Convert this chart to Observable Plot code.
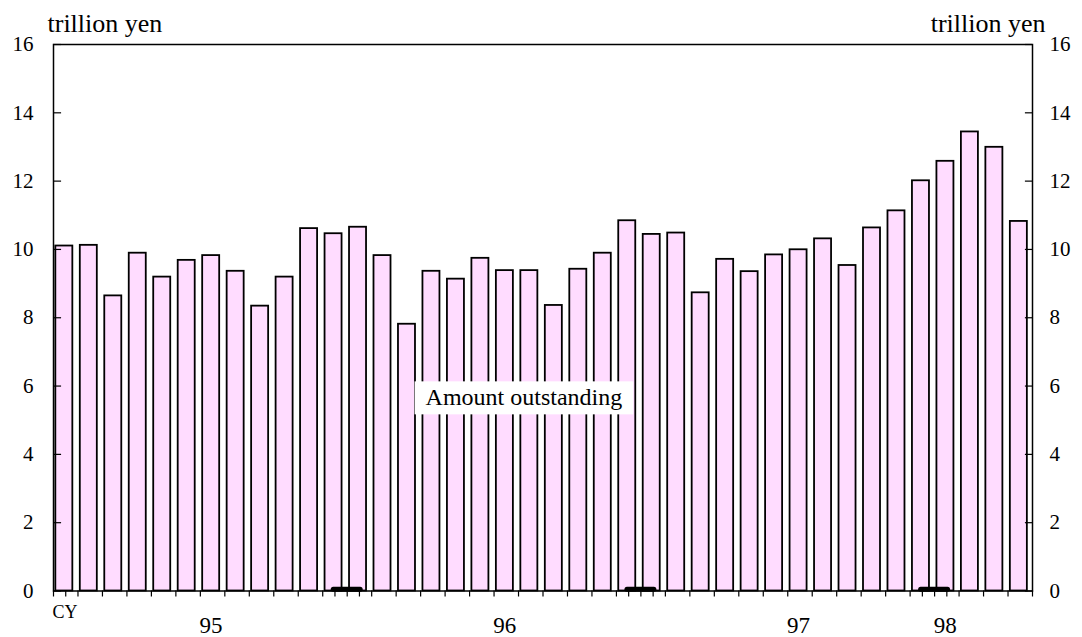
<!DOCTYPE html>
<html><head><meta charset="utf-8">
<script src="https://cdn.jsdelivr.net/npm/d3@7"></script>
<script src="https://cdn.jsdelivr.net/npm/@observablehq/plot@0.6"></script>
<style>
html,body{margin:0;padding:0;background:#fff;}
#chart{width:1082px;height:637px;}
#chart svg text{font-family:"Liberation Serif","Times New Roman",serif;}
</style></head><body><div id="chart"></div>
<script>
// Monthly, Jan 1995 .. Apr 1998
const months = d3.utcMonth.range(new Date(Date.UTC(1995,0,1)), new Date(Date.UTC(1998,4,1))).map(d => d3.utcFormat("%y/%m")(d));
const values = [10.10,10.12,8.64,9.89,9.19,9.68,9.82,9.36,8.34,9.19,10.61,10.46,
                10.65,9.82,7.81,9.36,9.13,9.74,9.38,9.38,8.36,9.42,9.89,10.84,
                10.44,10.48,8.73,9.71,9.35,9.84,9.99,10.31,9.53,10.63,11.13,12.01,
                12.58,13.44,12.99,10.82];
const yTicks = [0,2,4,6,8,10,12,14,16];
const yearLabels = ["95","96","97","98"];
const yearLabelMonth = [6,18,30,36];
const yearBoundaries = [12,24,36];
const seriesLabel = "Amount outstanding";
const unitLabel = "trillion yen";
const cyLabel = "CY";

const data = months.map((m,i) => ({month:m, i, value: values[i]}));
const n = months.length;
const xTicks = d3.range(0, n + 1)
  .concat([0.5], yearBoundaries.flatMap(b => [b - 0.5, b + 0.5]));

const font = "Liberation Serif";
const plot = Plot.plot({
  width: 1082, height: 637,
  marginLeft: 53, marginRight: 50, marginTop: 44, marginBottom: 46.5,
  style: {fontFamily: font, color: "black", background: "white"},
  x: {domain: [0, n], axis: null},
  y: {domain: [0, 16], axis: null},
  marks: [
    Plot.rectY(data, {x1: d => d.i + 0.095, x2: d => d.i + 0.79, y: "value",
      fill: "#ffdcff", stroke: "black", strokeWidth: 1.8}),
    Plot.frame({stroke: "black", strokeWidth: 1.5}),
    Plot.ruleY(yTicks, {y: d => d, x1: () => 0, x2: () => 0.33, stroke: "black", strokeWidth: 1.2}),
    Plot.ruleY(yTicks, {y: d => d, x1: () => n - 0.29, x2: () => n, stroke: "black", strokeWidth: 1.2}),
    Plot.axisY(yTicks, {anchor: "left", tickSize: 0, tickPadding: 20, label: null,
      fontSize: 21, fontFamily: font}),
    Plot.axisY(yTicks, {anchor: "right", tickSize: 0, tickPadding: 17, label: null,
      fontSize: 21, fontFamily: font}),
    Plot.axisX(xTicks, {anchor: "bottom", tickSize: 6, tickPadding: 0, label: null,
      tickFormat: () => "", strokeWidth: 1.2}),
    Plot.ruleY(yearBoundaries, {y: () => 0, x1: d => d - 0.55, x2: d => d + 0.55,
      stroke: "black", strokeWidth: 5, dy: -1.8, strokeLinecap: "round"}),
    Plot.text(yearLabelMonth, {x: d => d + 0.44, text: (d, j) => yearLabels[j],
      frameAnchor: "bottom", lineAnchor: "middle", dy: 35, fontSize: 23, fontFamily: font, fill: "black"}),
    Plot.text([cyLabel], {x: () => 0, text: d => d, frameAnchor: "bottom", lineAnchor: "middle",
      textAnchor: "start", dy: 21.7, dx: -1, fontSize: 18, fontFamily: font, fill: "black"}),
    Plot.text([unitLabel], {text: d => d, frameAnchor: "top-left", lineAnchor: "middle",
      textAnchor: "start", dx: -6, dy: -20.5, fontSize: 26, fontFamily: font, fill: "black"}),
    Plot.text([unitLabel], {text: d => d, frameAnchor: "top-right", lineAnchor: "middle",
      textAnchor: "end", dx: 13, dy: -20.5, fontSize: 26, fontFamily: font, fill: "black"}),
    Plot.text([seriesLabel], {x: () => 19.22, y: () => 5.66, text: d => d, lineAnchor: "middle",
      fontSize: 24, fontFamily: font, fill: "black"})
  ]
});
document.getElementById("chart").appendChild(plot);

// white box behind the series label
try {
  const texts = Array.from(plot.querySelectorAll("text"));
  const t = texts.find(el => el.textContent.trim() === seriesLabel);
  if (t) {
    const bb = t.getBBox();
    const rect = document.createElementNS("http://www.w3.org/2000/svg", "rect");
    rect.setAttribute("x", bb.x - 11);
    rect.setAttribute("y", bb.y - 3);
    rect.setAttribute("width", bb.width + 22);
    rect.setAttribute("height", bb.height + 7);
    rect.setAttribute("fill", "white");
    const tr = t.getAttribute("transform");
    if (tr) rect.setAttribute("transform", tr);
    t.parentNode.insertBefore(rect, t);
  }
} catch (e) {
  const p = document.createElement("pre"); p.textContent = String(e); document.body.appendChild(p);
}
</script></body></html>
